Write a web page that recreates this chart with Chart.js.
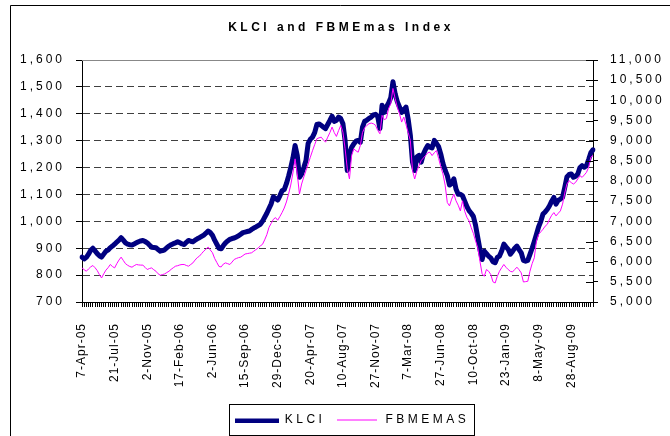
<!DOCTYPE html>
<html>
<head>
<meta charset="utf-8">
<script src="https://cdn.jsdelivr.net/npm/chart.js@4.4.1/dist/chart.umd.min.js"></script>
<style>
html,body{margin:0;padding:0;background:#fff;}
canvas{display:block;}
</style>
</head>
<body>
<canvas id="c" width="670" height="436"></canvas>
<script>
const titleText = 'KLCI and FBMEmas Index';
const tickLabels = ['7-Apr-05','21-Jul-05','2-Nov-05','17-Feb-06','2-Jun-06','15-Sep-06','29-Dec-06','20-Apr-07','10-Aug-07','27-Nov-07','7-Mar-08','27-Jun-08','10-Oct-08','23-Jan-09','8-May-09','28-Aug-09'];
const labelEvery = 15;
const klci = [
867,860,866,878,892,900,890,880,872,867,
878,889,893,902,908,915,923,930,939,930,
920,915,913,912,916,920,924,927,929,925,
920,912,904,903,902,895,889,891,894,902,
908,913,917,920,924,920,916,914,922,929,
926,924,930,935,939,944,949,956,964,958,
948,930,915,900,898,910,920,927,933,936,
938,942,946,952,958,960,962,964,970,975,
979,984,989,1000,1015,1030,1048,1065,1091,1085,
1079,1095,1114,1118,1140,1168,1200,1235,1282,1245,
1164,1176,1200,1226,1290,1305,1313,1330,1360,1362,
1357,1350,1345,1360,1375,1391,1372,1375,1388,1382,
1363,1300,1189,1250,1275,1288,1298,1301,1294,1350,
1372,1376,1383,1388,1396,1398,1390,1345,1432,1405,
1425,1440,1460,1519,1475,1445,1425,1405,1415,1425,
1380,1320,1220,1189,1240,1245,1220,1250,1268,1282,
1276,1273,1301,1290,1278,1250,1215,1190,1170,1135,
1140,1158,1120,1101,1101,1095,1075,1055,1040,1030,
1018,985,940,895,858,889,880,870,864,850,
846,866,871,890,915,905,896,878,888,900,
908,895,883,855,852,855,877,900,925,952,
980,1000,1027,1035,1045,1058,1075,1089,1064,1078,
1083,1089,1126,1165,1174,1176,1164,1168,1176,1200,
1207,1201,1207,1230,1255,1266];
const fbmemas = [
5845,5800,5763,5820,5870,5905,5850,5780,5680,5596,
5700,5790,5850,5930,5880,5845,5950,6040,6112,6030,
5950,5910,5880,5863,5900,5930,5920,5915,5913,5860,
5805,5830,5845,5800,5763,5700,5663,5680,5696,5730,
5763,5810,5850,5888,5900,5920,5930,5930,5905,5888,
5930,5970,6040,6100,6137,6200,6262,6310,6362,6290,
6222,6080,5980,5880,5870,5940,5970,5950,5930,5990,
6055,6080,6100,6112,6150,6190,6200,6210,6220,6260,
6300,6340,6390,6429,6540,6670,6850,6950,7050,7092,
7027,7120,7217,7330,7480,7676,7900,8200,8549,8175,
7676,7925,8100,8257,8420,8589,8750,8900,9047,9070,
9087,9020,8963,9087,9200,9337,9200,9105,9250,9379,
9212,8800,8300,8050,8631,8798,8750,8713,8880,9200,
9320,9379,9420,9436,9420,9380,9254,9171,9628,9520,
9550,9795,9920,10294,10045,9830,9670,9461,9586,9400,
9200,9005,8257,8050,8250,8381,8506,8570,8631,8700,
8713,8631,8700,8756,8560,8350,8175,7900,7466,7384,
7550,7676,7509,7400,7259,7509,7250,7100,7010,6843,
6700,6511,6344,6012,5700,5638,5805,5763,5680,5500,
5471,5638,5763,5850,5930,5860,5805,5760,5746,5805,
5863,5800,5721,5496,5505,5513,5763,5950,6095,6511,
6678,6740,6803,6880,6928,7052,7150,7217,7135,7200,
7259,7426,7700,7925,8007,7960,7925,7966,8050,8132,
8090,8150,8215,8340,8589,8631];

const categories = klci.map((_, i) => (i % labelEvery === 0 ? (tickLabels[i / labelEvery] || '') : ''));

const FONT = '"Liberation Sans", Arial, sans-serif';
const NAVY = '#000080';
const MAGENTA = '#FF00FF';

function lineSwatch(w, h, lw, color) {
  const c = document.createElement('canvas');
  c.width = w; c.height = h;
  const g = c.getContext('2d');
  g.fillStyle = color;
  g.fillRect(0, Math.round((h - lw) / 2), w, lw);
  return c;
}
const swatches = [lineSwatch(44, 5, 4, NAVY), lineSwatch(40, 5, 1, MAGENTA)];

const spacingPlugin = {
  id: 'spacing',
  beforeUpdate(chart) { chart.ctx.letterSpacing = '3.5px'; },
  afterLayout(chart) {
    // shift the title and legend slightly right, as in the reference
    const lg = chart.legend; lg.left += 17; lg.right += 17;
    const tb = chart.titleBlock; tb.left += 6; tb.right += 6;
    if (chart.$wrapped) return;
    chart.$wrapped = true;
    const wrap = (obj, fn, sp) => {
      const orig = obj[fn].bind(obj);
      obj[fn] = function (...a) {
        const ctx = chart.ctx; const prev = ctx.letterSpacing;
        ctx.letterSpacing = sp; orig(...a); ctx.letterSpacing = prev;
      };
    };
    wrap(chart.scales.x, 'drawLabels', '1px');
    wrap(chart.scales.y, 'drawLabels', '3px');
    wrap(chart.scales.y1, 'drawLabels', '3px');
  },
  beforeDraw(chart) {
    const ctx = chart.ctx;
    ctx.letterSpacing = '3.5px';
    ctx.save();
    ctx.strokeStyle = '#000';
    ctx.lineWidth = 1;
    ctx.beginPath();
    ctx.moveTo(10.5, chart.height + 5);
    ctx.lineTo(10.5, 5.5);
    ctx.lineTo(chart.width + 5, 5.5);
    ctx.stroke();
    ctx.restore();
  },
  beforeDatasetsDraw(chart) {
    // solid grey top gridline at the axis maximum
    const ctx = chart.ctx, s = chart.scales.y, a = chart.chartArea;
    const y = Math.round(s.getPixelForValue(s.max)) + 0.5;
    ctx.save();
    ctx.strokeStyle = '#888';
    ctx.lineWidth = 1;
    ctx.setLineDash([]);
    ctx.beginPath(); ctx.moveTo(a.left, y); ctx.lineTo(a.right, y); ctx.stroke();
    ctx.restore();
  },
  afterDraw(chart) {
    const ctx = chart.ctx;
    const s = chart.scales.y1;
    ctx.save();
    ctx.strokeStyle = '#000';
    ctx.lineWidth = 1;
    ctx.setLineDash([]);
    ctx.beginPath();
    s.ticks.forEach(t => {
      const y = Math.round(s.getPixelForValue(t.value)) + 0.5;
      ctx.moveTo(s.left - 7, y);
      ctx.lineTo(s.left, y);
    });
    ctx.stroke();
    const hb = chart.legend.legendHitBoxes;
    if (hb && hb.length) {
      const l = Math.min(...hb.map(b => b.left)) - 6;
      const r = Math.max(...hb.map(b => b.left + b.width)) + 4;
      const t = Math.min(...hb.map(b => b.top)) - 10;
      const b = Math.max(...hb.map(b => b.top + b.height)) + 9;
      ctx.strokeRect(Math.round(l) + 0.5, Math.round(t) + 0.5, Math.round(r - l), Math.round(b - t));
    }
    ctx.restore();
  }
};

new Chart(document.getElementById('c'), {
  type: 'line',
  data: {
    labels: categories,
    datasets: [
      { label: 'KLCI', data: klci, yAxisID: 'y', borderColor: NAVY, backgroundColor: NAVY,
        borderWidth: 5, pointRadius: 0, tension: 0, order: 1, pointStyle: swatches[0],
        borderJoinStyle: 'round', borderCapStyle: 'round' },
      { label: 'FBMEMAS', data: fbmemas, yAxisID: 'y1', borderColor: MAGENTA, backgroundColor: MAGENTA,
        borderWidth: 1, pointRadius: 0, tension: 0, order: 0, pointStyle: swatches[1] }
    ]
  },
  options: {
    responsive: false,
    animation: false,
    events: [],
    layout: { padding: { left: 0, right: 0, top: 0, bottom: 0 } },
    plugins: {
      tooltip: { enabled: false },
      title: {
        display: true, text: titleText, color: '#000',
        font: { family: FONT, size: 12, weight: 'bold', lineHeight: 1.2 },
        padding: { top: 20, bottom: 25.6 }
      },
      legend: {
        position: 'bottom',
        labels: {
          color: '#000', font: { family: FONT, size: 12 },
          usePointStyle: true, pointStyleWidth: 44, padding: 10,
          generateLabels(chart) {
            return chart.data.datasets.map((d, i) => ({
              text: d.label, pointStyle: swatches[i], datasetIndex: i,
              fillStyle: d.borderColor, strokeStyle: d.borderColor, lineWidth: 0, hidden: false
            }));
          }
        }
      }
    },
    scales: {
      x: {
        type: 'category',
        offset: false,
        afterFit(s) { s.height = 102; },
        grid: { display: true, drawOnChartArea: false, drawTicks: true, tickLength: 5, color: '#000', tickColor: '#000', offset: false },
        border: { display: true, color: '#000', width: 1 },
        ticks: { autoSkip: false, maxRotation: 90, minRotation: 90, padding: 16, color: '#000',
          font: { family: FONT, size: 12 } }
      },
      y: {
        position: 'left', min: 700, max: 1600,
        afterFit(s) { s.width = 82; },
        grid: { drawOnChartArea: true, drawTicks: true, tickLength: 6, tickColor: '#000', color: '#404040', tickBorderDash: [] },
        border: { display: true, color: '#000', width: 1, dash: [7, 4] },
        ticks: { stepSize: 100, padding: 11, color: '#000', font: { family: FONT, size: 12 },
          callback: v => v.toLocaleString('en-US') }
      },
      y1: {
        position: 'right', min: 5000, max: 11000,
        afterFit(s) { s.width = 77; },
        grid: { drawOnChartArea: false, drawTicks: true, tickLength: 5, tickColor: '#000' },
        border: { display: true, color: '#000', width: 1 },
        ticks: { stepSize: 500, padding: 12, color: '#000', font: { family: FONT, size: 12 },
          callback: v => v.toLocaleString('en-US') }
      }
    }
  },
  plugins: [spacingPlugin]
});
</script>
</body>
</html>
